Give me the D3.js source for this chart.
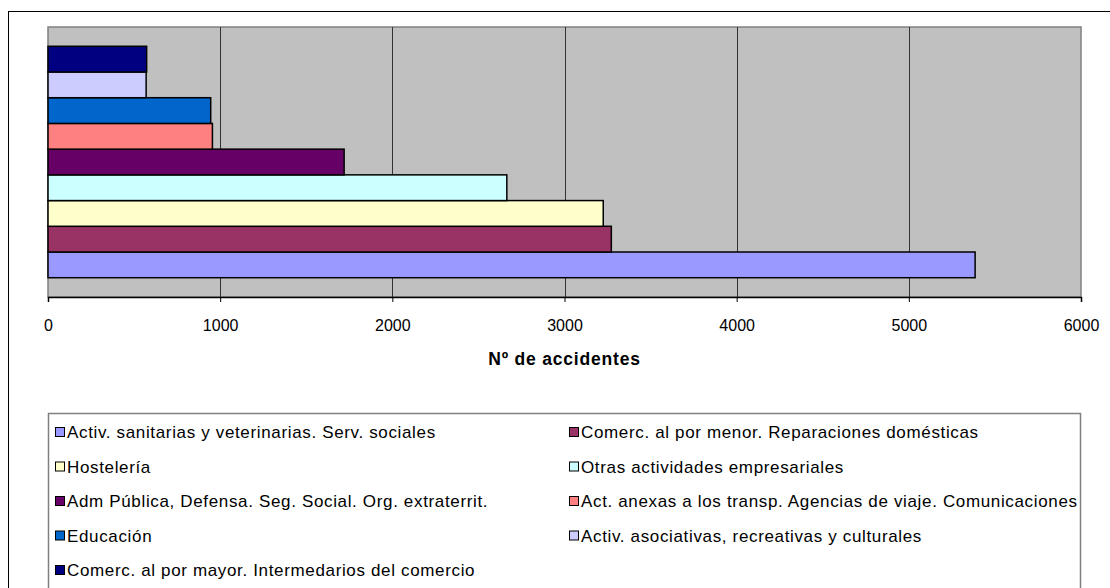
<!DOCTYPE html>
<html>
<head>
<meta charset="utf-8">
<script src="https://cdn.jsdelivr.net/npm/d3@7"></script>
<style>
  body { margin: 0; background: #fff; }
  svg { display: block; font-family: "Liberation Sans", Arial, sans-serif; }
</style>
</head>
<body>
<div id="chart"></div>
<script>
// series, in the order Excel draws them (first = bottom bar)
const series = [
  "Activ. sanitarias y veterinarias. Serv. sociales",
  "Comerc. al por menor. Reparaciones domésticas",
  "Hostelería",
  "Otras actividades empresariales",
  "Adm Pública, Defensa. Seg. Social. Org. extraterrit.",
  "Act. anexas a los transp. Agencias de viaje. Comunicaciones",
  "Educación",
  "Activ. asociativas, recreativas y culturales",
  "Comerc. al por mayor. Intermedarios del comercio"
];
const values = [5385, 3272, 3225, 2665, 1720, 955, 945, 570, 573];
const colors = ["#9999FF", "#993366", "#FFFFCC", "#CCFFFF", "#660066",
                "#FF8080", "#0066CC", "#CCCCFF", "#000080"];
const xTicks = [0, 1000, 2000, 3000, 4000, 5000, 6000];
const xTitle = "Nº de accidentes";

const W = 1110, H = 588;
const plot = { left: 48, top: 27, right: 1081, bottom: 297 };

const svg = d3.select("#chart").append("svg").attr("width", W).attr("height", H);

// outer chart border (runs off the bottom/right of the picture)
svg.append("rect")
  .attr("x", 8.5).attr("y", 11.5)
  .attr("width", W + 20).attr("height", H + 20)
  .attr("fill", "#fff").attr("stroke", "#000").attr("stroke-width", 1);

const x = d3.scaleLinear().domain([0, 6000]).range([plot.left, plot.right]);
const y = d3.scaleBand()
  .domain(d3.range(series.length))
  .range([plot.bottom, plot.top])
  .paddingInner(0).paddingOuter(0.75);

// plot area
svg.append("rect")
  .attr("x", plot.left).attr("y", plot.top)
  .attr("width", plot.right - plot.left).attr("height", plot.bottom - plot.top)
  .attr("fill", "#C0C0C0").attr("stroke", "#808080").attr("stroke-width", 1.5);

// gridlines
svg.append("g").selectAll("line")
  .data(xTicks.slice(1, -1))
  .join("line")
  .attr("x1", d => Math.round(x(d)) + 0.5).attr("x2", d => Math.round(x(d)) + 0.5)
  .attr("y1", plot.top).attr("y2", plot.bottom)
  .attr("stroke", "#333").attr("stroke-width", 1);

// bars
svg.append("g").selectAll("rect")
  .data(values)
  .join("rect")
  .attr("x", x(0))
  .attr("y", (d, i) => y(i))
  .attr("width", d => x(d) - x(0))
  .attr("height", y.bandwidth())
  .attr("fill", (d, i) => colors[i])
  .attr("stroke", "#000").attr("stroke-width", 1.5);

// x axis
const axis = svg.append("g")
  .attr("transform", `translate(0,${plot.bottom})`)
  .call(d3.axisBottom(x).tickValues(xTicks).tickSize(5).tickPadding(18).tickFormat(d3.format("d")));
axis.select(".domain").attr("stroke", "#000").attr("stroke-width", 1.5);
axis.selectAll(".tick line").attr("stroke", "#000");
axis.selectAll("text").attr("font-size", 16).attr("fill", "#000")
  .attr("font-family", "'Liberation Sans', Arial, sans-serif");

// axis title
svg.append("text")
  .attr("x", (plot.left + plot.right) / 2).attr("y", 365)
  .attr("text-anchor", "middle")
  .attr("font-size", 17.5).attr("font-weight", "bold")
  .attr("letter-spacing", 0.8)
  .text(xTitle);

// legend
const legend = { left: 48, top: 413, right: 1080 };
svg.append("rect")
  .attr("x", legend.left + 0.5).attr("y", legend.top + 0.5)
  .attr("width", legend.right - legend.left).attr("height", H)
  .attr("fill", "#fff").attr("stroke", "#808080").attr("stroke-width", 1.5);

const colX = [55, 569];
const rowY = d3.scaleLinear().domain([0, 1]).range([432, 466.5]);
const items = svg.append("g").selectAll("g")
  .data(series)
  .join("g")
  .attr("transform", (d, i) => `translate(${colX[i % 2]},${rowY(Math.floor(i / 2))})`);
items.append("rect")
  .attr("x", 0.5).attr("y", -4.5).attr("width", 9).attr("height", 9)
  .attr("fill", (d, i) => colors[i]).attr("stroke", "#000").attr("stroke-width", 1);
items.append("text")
  .attr("x", 12).attr("y", 6)
  .attr("font-size", 17)
  .attr("letter-spacing", 0.65)
  .text(d => d);
</script>
</body>
</html>
